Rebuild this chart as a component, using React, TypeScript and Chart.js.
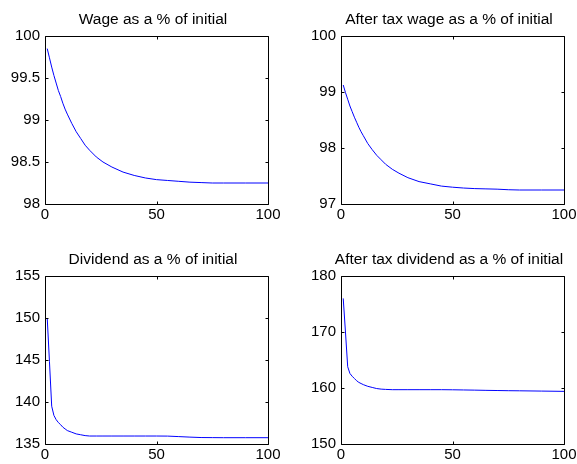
import React, { useEffect, useRef } from 'react';
import { Chart, registerables } from 'chart.js';

Chart.register(...registerables);

// ---- data ----
const periods = [1, 2, 3, 4, 5, 6, 7, 8, 9, 10, 12, 14, 16, 18, 20, 23, 26, 30, 35, 40, 45, 50, 55, 60, 65, 70, 75, 80, 90, 100];

const wage = [99.85, 99.74, 99.63, 99.53, 99.44, 99.35, 99.28, 99.2, 99.13, 99.07, 98.96, 98.86, 98.78, 98.7, 98.64, 98.56, 98.5, 98.44, 98.38, 98.34, 98.31, 98.29, 98.28, 98.27, 98.26, 98.255, 98.25, 98.25, 98.25, 98.25];

const afterTaxWage = [99.125, 98.99, 98.87, 98.75, 98.65, 98.55, 98.46, 98.37, 98.29, 98.22, 98.08, 97.97, 97.87, 97.79, 97.71, 97.62, 97.55, 97.47, 97.4, 97.36, 97.32, 97.3, 97.285, 97.275, 97.27, 97.265, 97.255, 97.25, 97.25, 97.25];

const dividend = [150.0, 144.8, 139.5, 138.4, 137.9, 137.55, 137.3, 137.0, 136.8, 136.6, 136.4, 136.2, 136.1, 136.0, 135.95, 135.95, 135.95, 135.95, 135.95, 135.95, 135.95, 135.95, 135.94, 135.88, 135.82, 135.77, 135.76, 135.75, 135.75, 135.75];

const afterTaxDividend = [176.0, 170.0, 163.8, 162.6, 162.1, 161.7, 161.3, 161.0, 160.8, 160.6, 160.3, 160.1, 159.9, 159.8, 159.75, 159.7, 159.7, 159.7, 159.7, 159.7, 159.7, 159.68, 159.65, 159.62, 159.58, 159.55, 159.52, 159.5, 159.45, 159.4];

const titles = [
  'Wage as a % of initial',
  'After tax wage as a % of initial',
  'Dividend as a % of initial',
  'After tax dividend as a % of initial',
];

const xTickLabels = [0, 50, 100];
const wageTicks = [98, 98.5, 99, 99.5, 100];
const afterTaxWageTicks = [97, 98, 99, 100];
const dividendTicks = [135, 140, 145, 150, 155];
const afterTaxDividendTicks = [150, 160, 170, 180];

// ---- layout ----
const FONT = '"Liberation Sans", Arial, Helvetica, sans-serif';

type PanelSpec = {
  title: string;
  values: number[];
  yTicks: number[];
  left: number;
  top: number;
  width: number;
  height: number;
  yAxisWidth: number;
  padRight: number;
};

const PLOT_TOP = 36;
const PLOT_H = 168;

const panels: PanelSpec[] = [
  { title: titles[0], values: wage, yTicks: wageTicks, left: 0, top: 0, width: 288, height: 240, yAxisWidth: 45, padRight: 20 },
  { title: titles[1], values: afterTaxWage, yTicks: afterTaxWageTicks, left: 288, top: 0, width: 289, height: 240, yAxisWidth: 53, padRight: 13 },
  { title: titles[2], values: dividend, yTicks: dividendTicks, left: 0, top: 240, width: 288, height: 224, yAxisWidth: 45, padRight: 20 },
  { title: titles[3], values: afterTaxDividend, yTicks: afterTaxDividendTicks, left: 288, top: 240, width: 289, height: 224, yAxisWidth: 53, padRight: 13 },
];

const matlabAxes = {
  id: 'matlabAxes',
  afterDraw(chart: any, _args: any, opts: any) {
    const { ctx, chartArea: a } = chart;
    const xs = chart.scales.x;
    const ys = chart.scales.y;
    const L = Math.round(a.left) + 0.5;
    const R = Math.round(a.right) + 0.5;
    const T = Math.round(a.top) + 0.5;
    const B = Math.round(a.bottom) + 0.5;
    const tl = 3;
    ctx.save();
    ctx.strokeStyle = '#000';
    ctx.lineWidth = 1;
    ctx.beginPath();
    ctx.rect(L, T, R - L, B - T);
    xs.ticks.forEach((t: any) => {
      const p = Math.round(xs.getPixelForValue(t.value)) + 0.5;
      ctx.moveTo(p, B);
      ctx.lineTo(p, B - tl);
      ctx.moveTo(p, T);
      ctx.lineTo(p, T + tl);
    });
    ys.ticks.forEach((t: any) => {
      const p = Math.round(ys.getPixelForValue(t.value)) + 0.5;
      ctx.moveTo(L, p);
      ctx.lineTo(L + tl, p);
      ctx.moveTo(R, p);
      ctx.lineTo(R - tl, p);
    });
    ctx.stroke();
    ctx.font = `15.5px ${FONT}`;
    ctx.fillStyle = '#000';
    ctx.textAlign = 'center';
    ctx.textBaseline = 'alphabetic';
    ctx.fillText(opts.title, (a.left + a.right) / 2 - 3.5, a.top - 12.5);
    ctx.restore();
  },
};

function Panel({ spec }: { spec: PanelSpec }) {
  const ref = useRef<HTMLCanvasElement>(null);
  useEffect(() => {
    const yTicks = spec.yTicks;
    const chart = new Chart(ref.current as HTMLCanvasElement, {
      type: 'line',
      data: {
        datasets: [
          {
            data: periods.map((t, i) => ({ x: t, y: spec.values[i] })),
            borderColor: '#0000ff',
            borderWidth: 1,
            pointRadius: 0,
            tension: 0,
            fill: false,
          },
        ],
      },
      options: {
        responsive: false,
        animation: false,
        devicePixelRatio: 1,
        layout: { padding: { top: PLOT_TOP, right: spec.padRight, left: 0, bottom: 0 } },
        plugins: {
          legend: { display: false },
          tooltip: { enabled: false },
          title: { display: false },
          matlabAxes: { title: spec.title },
        } as any,
        scales: {
          x: {
            type: 'linear',
            min: xTickLabels[0],
            max: xTickLabels[xTickLabels.length - 1],
            afterBuildTicks: (s: any) => {
              s.ticks = xTickLabels.map((v) => ({ value: v }));
            },
            ticks: {
              color: '#000',
              font: { size: 15, family: FONT },
              padding: 2,
              maxRotation: 0,
              autoSkip: false,
              callback: (v: any) => String(v),
            },
            grid: { display: false, drawTicks: false },
            border: { display: false },
            afterFit: (s: any) => {
              s.height = spec.height - PLOT_TOP - PLOT_H;
              s.paddingLeft = 0;
              s.paddingRight = 0;
            },
          },
          y: {
            type: 'linear',
            min: yTicks[0],
            max: yTicks[yTicks.length - 1],
            afterBuildTicks: (s: any) => {
              s.ticks = yTicks.map((v) => ({ value: v }));
            },
            ticks: {
              color: '#000',
              font: { size: 15, family: FONT },
              padding: 5,
              autoSkip: false,
              callback: (v: any) => String(v),
            },
            grid: { display: false, drawTicks: false },
            border: { display: false },
            afterFit: (s: any) => {
              s.width = spec.yAxisWidth;
              s.paddingTop = 0;
              s.paddingBottom = 0;
            },
          },
        },
      },
      plugins: [matlabAxes as any],
    });
    return () => chart.destroy();
  }, [spec]);
  return (
    <canvas
      ref={ref}
      width={spec.width}
      height={spec.height}
      style={{ position: 'absolute', left: spec.left, top: spec.top, width: spec.width, height: spec.height }}
    />
  );
}

export default function App() {
  return (
    <div
      style={{
        position: 'absolute',
        left: 0,
        top: 0,
        width: 577,
        height: 464,
        background: '#fff',
        overflow: 'hidden',
      }}
    >
      {panels.map((p, i) => (
        <Panel key={i} spec={p} />
      ))}
    </div>
  );
}
